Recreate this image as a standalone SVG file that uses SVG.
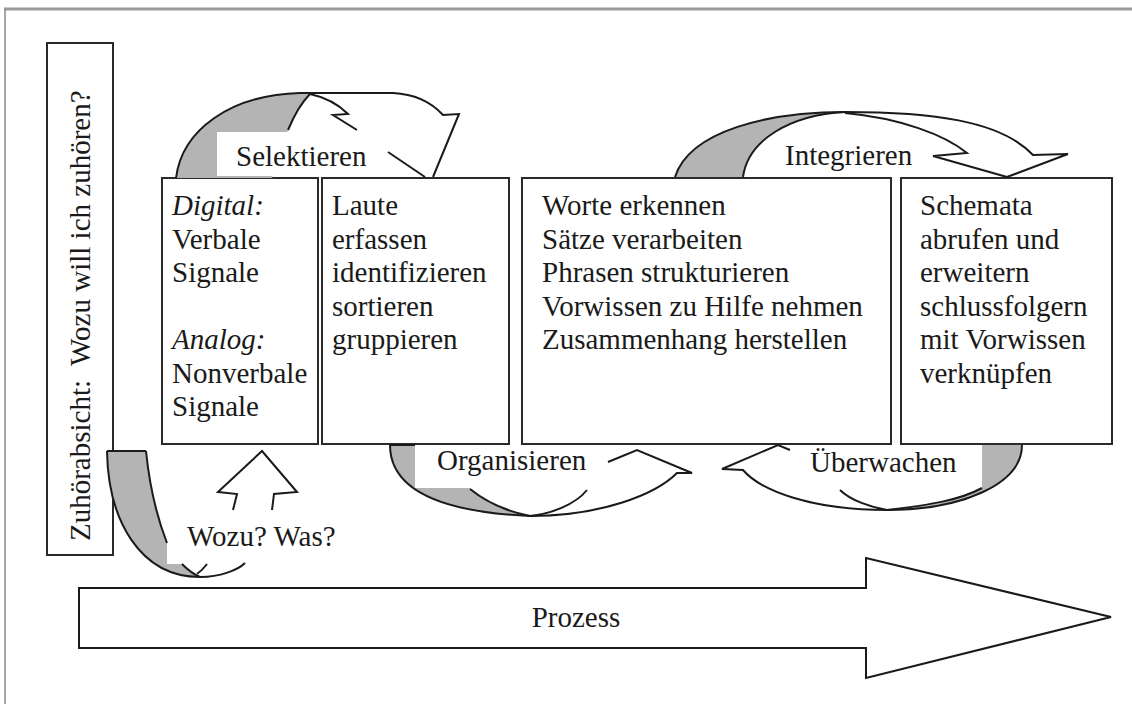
<svg xmlns="http://www.w3.org/2000/svg" width="1132" height="704" viewBox="0 0 1132 704">
  <style>
    .t { font-family: 'Liberation Serif', 'DejaVu Serif', serif; font-size: 29px; fill: #1a1a1a; }
    .it { font-style: italic; }
    .box { fill: #ffffff; stroke: #2a2a2a; stroke-width: 2; }
    .ln { fill: none; stroke: #1a1a1a; stroke-width: 2; stroke-linejoin: miter; stroke-linecap: butt; }
    .gray { fill: #b4b4b4; stroke: none; }
    .lbl { fill: #ffffff; stroke: none; }
  </style>
  <rect x="0" y="0" width="1132" height="704" fill="#ffffff"/>
  <!-- outer frame -->
  <line x1="4" y1="9" x2="1132" y2="9" stroke="#9a9a9a" stroke-width="3"/>
  <line x1="5" y1="9" x2="5" y2="704" stroke="#8a8a8a" stroke-width="1.5"/>

  <g id="node-zuhoerabsicht">
    <rect class="box" x="47" y="43" width="66" height="512"/>
    <text class="t" transform="translate(90,541) rotate(-90)" xml:space="preserve">Zuhörabsicht:  Wozu will ich zuhören?</text>
  </g>

  <g id="node-signale">
    <rect class="box" x="162" y="178" width="156" height="266"/>
    <text class="t" x="172" y="215"><tspan class="it">Digital:</tspan></text>
    <text class="t" x="172" y="248.5">Verbale</text>
    <text class="t" x="172" y="282">Signale</text>
    <text class="t" x="172" y="349"><tspan class="it">Analog:</tspan></text>
    <text class="t" x="172" y="382.5">Nonverbale</text>
    <text class="t" x="172" y="416">Signale</text>
  </g>

  <g id="node-laute">
    <rect class="box" x="322" y="178" width="187" height="266"/>
    <text class="t" x="332" y="215">Laute</text>
    <text class="t" x="332" y="248.5">erfassen</text>
    <text class="t" x="332" y="282">identifizieren</text>
    <text class="t" x="332" y="315.5">sortieren</text>
    <text class="t" x="332" y="349">gruppieren</text>
  </g>

  <g id="node-worte">
    <rect class="box" x="522" y="178" width="369" height="266"/>
    <text class="t" x="542" y="215">Worte erkennen</text>
    <text class="t" x="542" y="248.5">Sätze verarbeiten</text>
    <text class="t" x="542" y="282">Phrasen strukturieren</text>
    <text class="t" x="542" y="315.5">Vorwissen zu Hilfe nehmen</text>
    <text class="t" x="542" y="349">Zusammenhang herstellen</text>
  </g>

  <g id="node-schemata">
    <rect class="box" x="901" y="178" width="211" height="266"/>
    <text class="t" x="920" y="215">Schemata</text>
    <text class="t" x="920" y="248.5">abrufen und</text>
    <text class="t" x="920" y="282">erweitern</text>
    <text class="t" x="920" y="315.5">schlussfolgern</text>
    <text class="t" x="920" y="349">mit Vorwissen</text>
    <text class="t" x="920" y="382.5">verknüpfen</text>
  </g>

  <g id="node-prozess">
    <path class="ln" style="fill:#ffffff" d="M79,588 L866,588 L866,558 L1111,617 L866,678 L866,648 L79,648 Z"/>
    <text class="t" x="576" y="627" text-anchor="middle">Prozess</text>
  </g>

  <g id="connectors">
    <!-- Selektieren -->
    <g id="arrow-selektieren">
      <path class="gray" d="M176,178 C 182,130 230,95 300,93 L 310,93 C 300,105 293,118 288,130 L 272,178 Z"/>
      <rect class="lbl" x="217" y="132" width="160" height="44"/>
      <path class="ln" d="M176,178 C 182,130 230,95 300,93 L 393,93 C 415,94 432,103 443,115 L 459,114 L 433,177"/>
      <path class="ln" d="M425,177 L 388,152"/>
      <path class="ln" d="M288,130 C 293,118 300,104 310,94 C 324,97 338,104 348,114 L 333,115 L 357,130"/>
      <text class="t" x="236" y="166">Selektieren</text>
    </g>
    <!-- Integrieren -->
    <g id="arrow-integrieren">
      <path class="gray" d="M675,177 C 690,130 770,112 845,112 C 790,115 748,140 743,177 Z"/>
      <path class="ln" d="M675,177 C 690,130 770,112 845,112 C 930,112 1000,120 1033,155 L 1068,154 L 1007,177"/>
      <path class="ln" d="M743,177 C 748,140 790,115 845,112"/>
      <path class="ln" d="M845,113 C 900,118 945,135 967,153 L 933,156 L 1007,177"/>
      <text class="t" x="785" y="165">Integrieren</text>
    </g>
    <!-- Organisieren -->
    <g id="arrow-organisieren">
      <path class="gray" d="M390,445 L 415,445 L 415,488 L 470,488 C 490,505 510,512 530,516 C 440,512 390,490 390,445 Z"/>
      <rect class="lbl" x="415" y="447" width="180" height="41"/>
      <path class="ln" d="M390,445 C 390,490 440,512 530,516 C 600,516 655,495 677,473 L 692,473 L 637,450 L 608,462"/>
      <path class="ln" d="M470,489 C 490,505 510,512 530,516"/>
      <path class="ln" d="M587,490 C 575,505 550,514 530,516"/>
      <path class="ln" d="M390,445 L 415,445"/>
      <text class="t" x="437" y="470">Organisieren</text>
    </g>
    <!-- Überwachen -->
    <g id="arrow-ueberwachen">
      <path class="gray" d="M982,445 L 1022,445 C 1022,485 960,510 887,510 C 930,505 965,500 982,488 Z"/>
      <rect class="lbl" x="800" y="447" width="182" height="41"/>
      <path class="ln" d="M1022,445 C 1022,485 960,510 887,510 C 810,510 760,490 743,470 L 722,469 L 778,445 L 790,450"/>
      <path class="ln" d="M982,488 C 960,500 930,505 887,510"/>
      <path class="ln" d="M840,490 C 850,500 870,507 887,510"/>
      <text class="t" x="810" y="472">Überwachen</text>
    </g>
    <!-- Wozu? Was? -->
    <g id="arrow-wozu">
      <path class="gray" d="M107,451 L 146,451 C 150,490 158,520 167,543 L 167,564 L 182,564 C 188,570 195,575 200,577 C 140,577 108,520 107,451 Z"/>
      <rect class="lbl" x="167" y="516" width="178" height="48"/>
      <path class="ln" d="M107,451 L 146,451"/>
      <path class="ln" d="M107,451 C 108,520 140,577 200,577 C 220,577 238,570 245,563"/>
      <path class="ln" d="M146,451 C 150,490 158,520 167,543"/>
      <path class="ln" d="M182,564 C 188,570 195,575 200,577"/>
      <path class="ln" d="M207,564 C 204,568 200,572 197,574"/>
      <path class="ln" d="M233,510 L 237,494 L 218,492 L 262,451 L 297,492 L 274,494 L 272,510"/>
      <text class="t" x="187" y="546">Wozu? Was?</text>
    </g>
  </g>
</svg>
